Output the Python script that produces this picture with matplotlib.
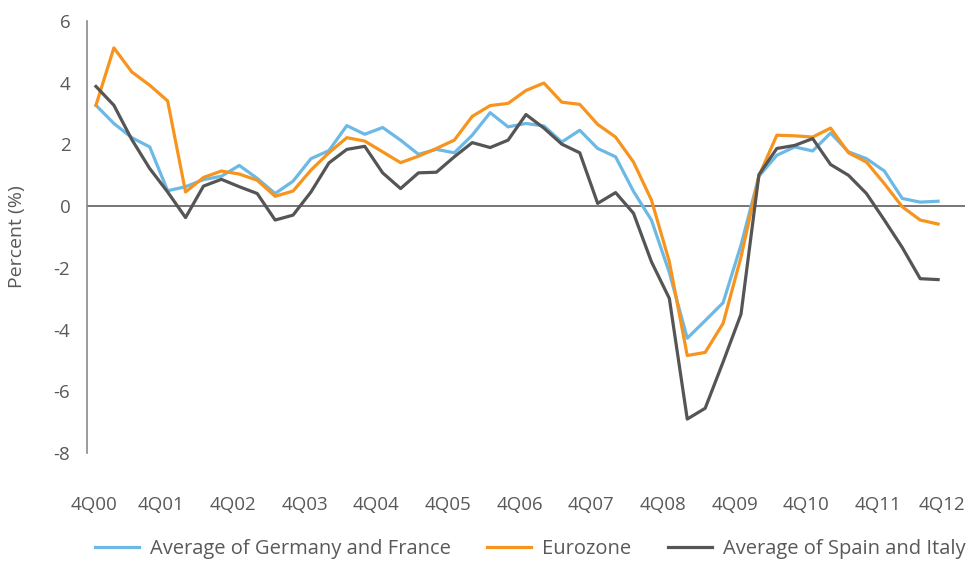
import numpy as np
import matplotlib.pyplot as plt

plt.rcParams['font.family'] = ['Open Sans', 'DejaVu Sans']

# quarters 4Q00 .. 4Q12 (last category has no data)
quarters = ['4Q00'] + ['%dQ%02d' % (q, y) for y in range(1, 13) for q in range(1, 5)]

germany_france = [3.27, 2.68, 2.22, 1.92, 0.50, 0.63, 0.86, 0.97, 1.32, 0.90,
                  0.41, 0.81, 1.54, 1.80, 2.61, 2.33, 2.55, 2.14, 1.68, 1.84,
                  1.73, 2.30, 3.03, 2.57, 2.68, 2.60, 2.08, 2.46, 1.87, 1.60,
                  0.48, -0.45, -2.15, -4.28, -3.71, -3.13, -1.26, 0.97, 1.65, 1.92,
                  1.79, 2.37, 1.76, 1.54, 1.14, 0.25, 0.13, 0.16]
eurozone = [3.27, 5.13, 4.35, 3.92, 3.41, 0.46, 0.93, 1.14, 1.04, 0.84,
            0.32, 0.49, 1.17, 1.73, 2.22, 2.11, 1.76, 1.41, 1.62, 1.87,
            2.14, 2.91, 3.26, 3.33, 3.75, 3.99, 3.37, 3.30, 2.65, 2.24,
            1.43, 0.20, -1.80, -4.84, -4.74, -3.80, -1.65, 0.98, 2.30, 2.28,
            2.24, 2.53, 1.73, 1.43, 0.73, -0.02, -0.45, -0.58]
spain_italy = [3.88, 3.27, 2.16, 1.22, 0.46, -0.37, 0.65, 0.87, 0.63, 0.41,
               -0.45, -0.29, 0.46, 1.40, 1.84, 1.94, 1.08, 0.57, 1.08, 1.10,
               1.60, 2.06, 1.90, 2.14, 2.97, 2.53, 2.01, 1.73, 0.09, 0.44,
               -0.23, -1.80, -2.99, -6.90, -6.55, -5.05, -3.50, 1.02, 1.87, 1.97,
               2.19, 1.35, 1.00, 0.41, -0.45, -1.34, -2.35, -2.38]

yticks = [-8, -6, -4, -2, 0, 2, 4, 6]

txt = '#595959'
c_blue = '#6cb9e6'
c_orange = '#f7941d'
c_gray = '#555555'

fig = plt.figure(figsize=(9.71, 5.61), dpi=100)
ax = fig.add_axes([0.0896, 0.1925, 0.9042, 0.770])

x = np.arange(len(germany_france))
ax.plot(x, germany_france, color=c_blue, lw=2.3, label='Average of Germany and France')
ax.plot(x, eurozone, color=c_orange, lw=2.3, label='Eurozone')
ax.plot(x, spain_italy, color=c_gray, lw=2.3, label='Average of Spain and Italy')

ax.axhline(0, color='#5f5f5f', lw=1.2, zorder=1)

ax.set_xlim(-0.5, len(quarters) - 0.5)
ax.set_ylim(-8, 6)

for s in ['top', 'right', 'bottom']:
    ax.spines[s].set_visible(False)
ax.spines['left'].set_color('#8a8a8a')
ax.spines['left'].set_linewidth(1.2)

ax.set_yticks(yticks)
ax.set_yticklabels([str(v) for v in yticks])
tick_pos = np.arange(0, len(quarters), 4) - 0.35
tick_pos[0] = -0.1
tick_pos[-1] = 47.2
ax.set_xticks(tick_pos)
ax.set_xticklabels(quarters[::4])
ax.tick_params(axis='both', length=0, labelsize=13.5, colors=txt)
ax.tick_params(axis='y', pad=12)
ax.tick_params(axis='x', pad=0)
for lab in ax.get_xticklabels():
    lab.set_y(-0.10)

ax.set_ylabel('Percent (%)', fontsize=14, color=txt)
ax.yaxis.set_label_coords(-0.069, 0.5)

leg = fig.legend(loc='center', bbox_to_anchor=(0.546, 0.022), ncol=3, frameon=False,
                 fontsize=14.5, handlelength=2.2, handletextpad=0.55, columnspacing=1.8)
for t in leg.get_texts():
    t.set_color(txt)

plt.savefig('out.png', dpi=100)
